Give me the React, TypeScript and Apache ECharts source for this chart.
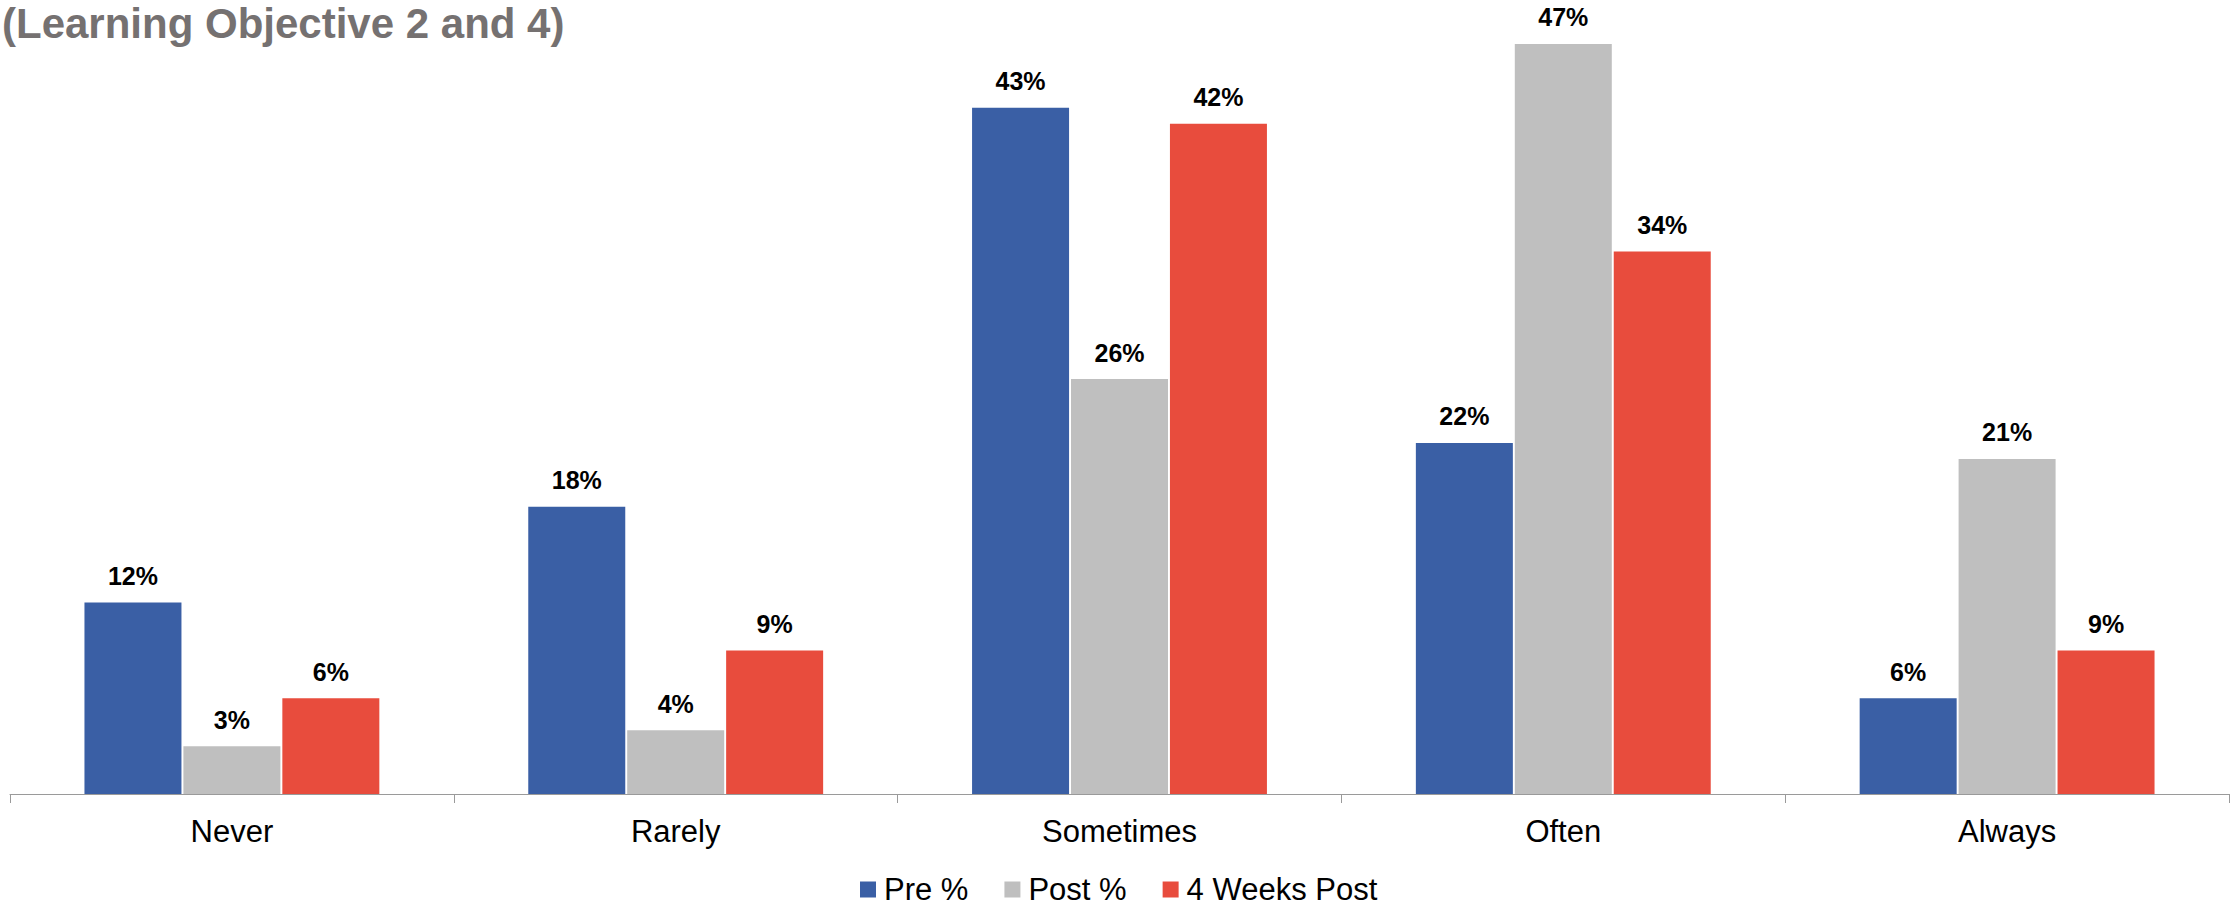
import React, { useEffect, useRef } from "react";
import * as echarts from "echarts";

// Survey responses by frequency, in percent
const categories = ["Never", "Rarely", "Sometimes", "Often", "Always"];
const seriesNames = ["Pre %", "Post %", "4 Weeks Post"];
const preValues = [12, 18, 43, 22, 6];
const postValues = [3, 4, 26, 47, 21];
const fourWeeksPostValues = [6, 9, 42, 34, 9];
const seriesColors = ["#3A5FA5", "#BFBFBF", "#E84C3D"];
const titleText = "(Learning Objective 2 and 4)";

const FONT = '"Liberation Sans", Arial, sans-serif';

export default function App() {
  const ref = useRef<HTMLDivElement>(null);

  useEffect(() => {
    if (!ref.current) return;
    const chart = echarts.init(ref.current, undefined, { renderer: "svg" });
    const values = [preValues, postValues, fourWeeksPostValues];

    chart.setOption({
      animation: false,
      backgroundColor: "#ffffff",
      title: {
        text: titleText,
        left: 2,
        top: 2,
        padding: 0,
        textStyle: {
          fontFamily: FONT,
          fontSize: 42,
          fontWeight: "bold",
          color: "#757171",
          lineHeight: 42,
        },
      },
      legend: {
        data: seriesNames,
        left: 860,
        top: 874,
        padding: 0,
        itemWidth: 16,
        itemHeight: 16,
        itemGap: 36,
        icon: "rect",
        textStyle: {
          fontFamily: FONT,
          fontSize: 31,
          color: "#000000",
          lineHeight: 31,
          padding: [0, 0, 0, 3],
        },
      },
      grid: {
        left: 10,
        right: 2,
        top: 28,
        bottom: 112,
        containLabel: false,
      },
      xAxis: {
        type: "category",
        data: categories,
        axisLine: { show: true, lineStyle: { color: "#9A9A9A", width: 1 } },
        axisTick: { show: true, length: 9, lineStyle: { color: "#9A9A9A", width: 1 } },
        axisLabel: {
          fontFamily: FONT,
          fontSize: 31,
          color: "#000000",
          margin: 22,
        },
      },
      yAxis: {
        type: "value",
        min: 0,
        max: 48,
        show: false,
        splitLine: { show: false },
      },
      series: seriesNames.map((name, i) => ({
        name,
        type: "bar",
        data: values[i],
        barWidth: 97,
        barGap: "2%",
        itemStyle: { color: seriesColors[i] },
        label: {
          show: true,
          position: "top",
          distance: 14,
          formatter: "{c}%",
          fontFamily: FONT,
          fontSize: 25,
          fontWeight: "bold",
          color: "#000000",
        },
      })),
    });

    return () => chart.dispose();
  }, []);

  return (
    <div
      ref={ref}
      style={{ position: "fixed", left: 0, top: 0, width: 2231, height: 906 }}
    />
  );
}
